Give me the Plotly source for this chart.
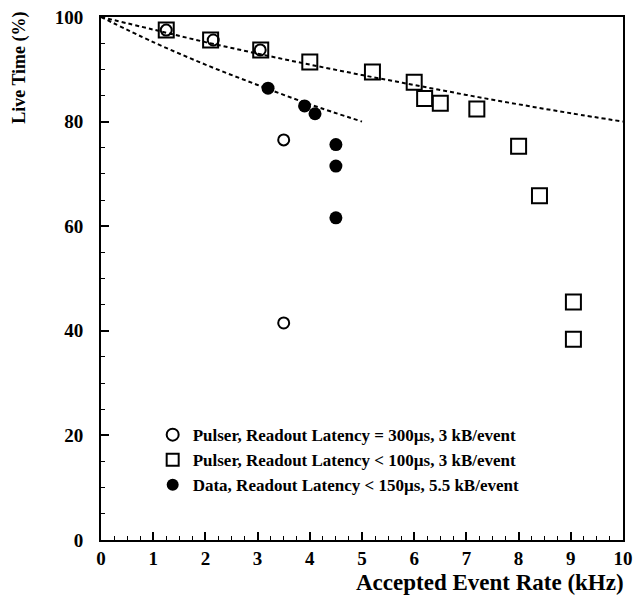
import plotly.graph_objects as go

# Pulser, readout latency = 300 us (open circles)
circ_x = [1.25, 2.15, 3.05, 3.5, 3.5]
circ_y = [97.5, 95.6, 93.7, 76.5, 41.5]

# Pulser, readout latency < 100 us (open squares)
sq_x = [1.25, 2.1, 3.06, 4.0, 5.2, 6.0, 6.2, 6.5, 7.2, 8.0, 8.4, 9.05, 9.05]
sq_y = [97.5, 95.6, 93.7, 91.4, 89.5, 87.5, 84.4, 83.5, 82.4, 75.3, 65.8, 45.5, 38.4]

# Data, readout latency < 150 us (filled circles)
dat_x = [3.2, 3.9, 4.1, 4.5, 4.5, 4.5]
dat_y = [86.4, 83.0, 81.5, 75.6, 71.5, 61.6]

# Dashed model curves
fit1_x = [0, 1, 2, 3, 4, 5, 6, 7, 8, 9, 10]
fit1_y = [100, 97.6, 95.2, 93.0, 90.9, 88.9, 87.0, 85.1, 83.3, 81.6, 80.0]
fit2_x = [0, 1, 2, 3, 4, 5]
fit2_y = [100, 95.2, 90.9, 87.0, 83.3, 80.0]

x_ticks = list(range(0, 11))
y_ticks = [0, 20, 40, 60, 80, 100]

FONT = "Liberation Serif"

fig = go.Figure()
fig.add_trace(go.Scatter(x=fit1_x, y=fit1_y, mode="lines", showlegend=False,
                         line=dict(color="black", width=2, dash="4px,3px"), line_shape="spline"))
fig.add_trace(go.Scatter(x=fit2_x, y=fit2_y, mode="lines", showlegend=False,
                         line=dict(color="black", width=2, dash="4px,3px"), line_shape="spline"))
fig.add_trace(go.Scatter(x=circ_x, y=circ_y, mode="markers",
                         name="Pulser, Readout Latency = 300µs, 3 kB/event",
                         marker=dict(symbol="circle-open", size=11, color="black", line=dict(width=2))))
fig.add_trace(go.Scatter(x=sq_x, y=sq_y, mode="markers",
                         name="Pulser, Readout Latency < 100µs, 3 kB/event",
                         marker=dict(symbol="square-open", size=15, color="black", line=dict(width=2))))
fig.add_trace(go.Scatter(x=dat_x, y=dat_y, mode="markers",
                         name="Data, Readout Latency < 150µs, 5.5 kB/event",
                         marker=dict(symbol="circle", size=13, color="black")))

axis_common = dict(showgrid=False, zeroline=False, showline=True, linecolor="black", linewidth=2,
                   mirror=True, ticks="inside", tickcolor="black", ticklen=8, tickwidth=1.5,
                   automargin=False, ticklabeloverflow="allow",
                   tickfont=dict(family=FONT, size=19, color="black", weight="bold"))

fig.update_xaxes(range=[0, 10], tickvals=x_ticks, ticktext=[str(v) for v in x_ticks],
                 minor=dict(dtick=0.25, ticks="inside", ticklen=4, tickcolor="black", tickwidth=1),
                 **axis_common)
fig.update_yaxes(range=[0, 100], tickvals=y_ticks, ticktext=[str(v) for v in y_ticks],
                 minor=dict(dtick=5, ticks="inside", ticklen=4, tickcolor="black", tickwidth=1),
                 ticklabelstandoff=12,
                 **axis_common)

fig.update_layout(
    width=633, height=597,
    margin=dict(l=101, r=10, t=17, b=57),
    paper_bgcolor="white", plot_bgcolor="white",
    legend=dict(x=0.099, y=0.235, xanchor="left", yanchor="top", bgcolor="rgba(0,0,0,0)",
                font=dict(family=FONT, size=17, color="black", weight="bold"),
                itemsizing="constant"),
    annotations=[
        dict(text="Live Time (%)", xref="paper", yref="paper", x=-0.155, y=1.014,
             xanchor="center", yanchor="top", textangle=-90, showarrow=False,
             font=dict(family=FONT, size=18, color="black", weight="bold")),
        dict(text="Accepted Event Rate (kHz)", xref="paper", yref="paper", x=1.005, y=-0.082,
             xanchor="right", yanchor="middle", showarrow=False,
             font=dict(family=FONT, size=23, color="black", weight="bold")),
    ],
)

fig.write_html("out.html", config={"displayModeBar": False},
               post_script="document.body.style.margin='0';")
